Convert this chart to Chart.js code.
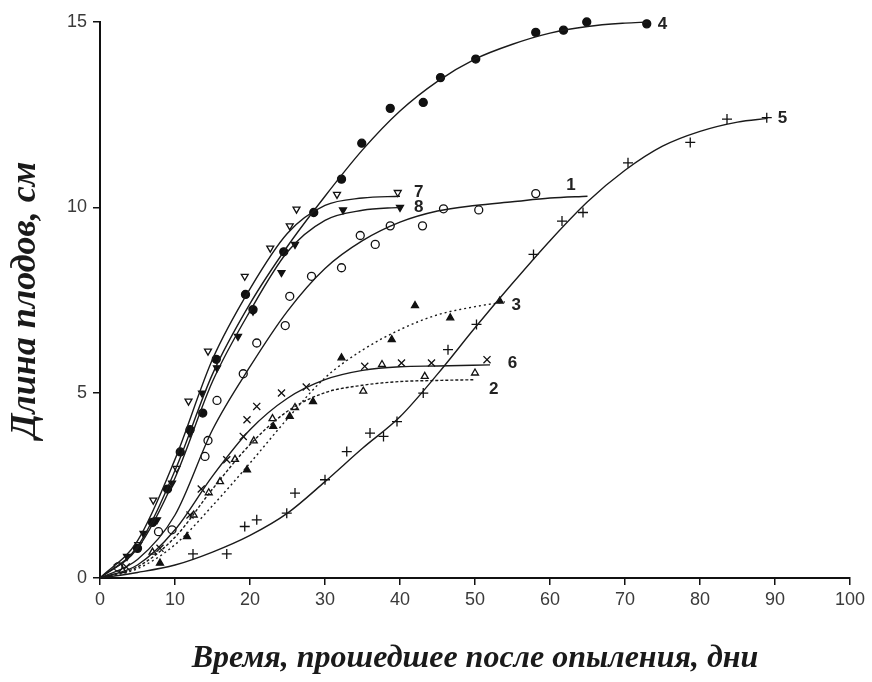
<!DOCTYPE html>
<html>
<head>
<meta charset="utf-8">
<script src="https://cdn.jsdelivr.net/npm/chart.js@4.4.1/dist/chart.umd.min.js"></script>
<style>
  html, body { margin: 0; padding: 0; background: #fff; }
  canvas { display: block; }
</style>
</head>
<body>
<canvas id="grafico" width="872" height="682"></canvas>
<script>
// tick labels
const xTicks = [0, 10, 20, 30, 40, 50, 60, 70, 80, 90, 100];
const yTicks = [0, 5, 10, 15];

// fitted curves [x, y]
const line1 = [[0,0],[5,0.5],[10,1.7],[15,4.0],[20,5.7],[25,7.2],[30,8.35],[35,9.1],[40,9.6],[45,9.9],[50,10.05],[55,10.15],[60,10.25],[65,10.3]];
const line2 = [[0,0],[5,0.3],[10,1.1],[15,2.4],[20,3.6],[25,4.5],[30,5.0],[35,5.2],[40,5.3],[45,5.33],[50,5.35]];
const line3 = [[0,0],[5,0.25],[10,0.9],[15,1.95],[20,3.1],[25,4.3],[30,5.4],[35,6.15],[40,6.7],[45,7.1],[50,7.32],[54,7.45]];
const line4 = [[0,0],[5,0.85],[10,2.9],[15,5.5],[20,7.4],[25,8.95],[30,10.3],[35,11.55],[40,12.6],[45,13.4],[50,14.0],[55,14.4],[60,14.7],[65,14.88],[70,14.97],[73,15.0]];
const line5 = [[0,0],[5,0.15],[10,0.35],[15,0.7],[20,1.15],[25,1.75],[30,2.6],[35,3.5],[40,4.35],[45,5.5],[50,6.75],[55,7.95],[60,9.1],[65,10.15],[70,11.0],[75,11.65],[80,12.05],[85,12.3],[89,12.4]];
const line6 = [[0,0],[5,0.35],[10,1.3],[15,2.75],[20,4.0],[25,4.85],[30,5.35],[35,5.6],[40,5.7],[45,5.72],[52,5.75]];
const line7 = [[0,0],[5,1.0],[10,3.2],[15,5.9],[20,7.8],[25,9.3],[30,10.05],[35,10.25],[40,10.3]];
const line8 = [[0,0],[5,0.8],[10,2.7],[15,5.3],[20,7.2],[25,8.8],[30,9.65],[35,9.92],[40,10.0]];

// measured points [x, y]
const pts1 = [[2.4,0.3],[7.8,1.25],[9.6,1.3],[14,3.28],[14.4,3.71],[15.6,4.79],[19.1,5.51],[20.9,6.34],[24.7,6.81],[25.3,7.6],[28.2,8.14],[32.2,8.37],[34.7,9.24],[36.7,9.0],[38.7,9.5],[43,9.5],[45.8,9.96],[50.5,9.93],[58.1,10.37]];
const pts2 = [[3,0.2],[7,0.7],[12.5,1.7],[14.5,2.3],[16,2.6],[18,3.2],[20.5,3.7],[23,4.3],[26,4.6],[35.1,5.04],[37.6,5.76],[43.3,5.44],[50,5.53]];
const pts3 = [[8,0.4],[11.6,1.12],[19.6,2.92],[23.1,4.09],[25.3,4.36],[28.4,4.76],[32.2,5.94],[38.9,6.43],[42,7.35],[46.7,7.02],[53.3,7.47]];
const pts4 = [[2.5,0.3],[5,0.8],[7,1.5],[9,2.4],[10.7,3.4],[12,4.0],[13.7,4.45],[15.5,5.9],[19.4,7.65],[20.4,7.24],[24.5,8.8],[28.5,9.86],[32.2,10.76],[34.9,11.73],[38.7,12.67],[43.1,12.83],[45.4,13.5],[50.1,14.0],[58.1,14.72],[61.8,14.78],[64.9,15.0],[72.9,14.95]];
const pts5 = [[12.4,0.65],[16.9,0.65],[19.3,1.39],[20.9,1.57],[24.9,1.75],[26,2.29],[30,2.65],[32.9,3.41],[36,3.91],[37.8,3.82],[39.6,4.22],[43.1,4.99],[46.4,6.16],[50.2,6.84],[57.8,8.73],[61.6,9.63],[64.4,9.86],[70.4,11.2],[78.7,11.75],[83.6,12.38],[88.9,12.42]];
const pts6 = [[3.5,0.3],[8,0.8],[12,1.7],[13.5,2.4],[16.9,3.19],[19.1,3.82],[19.6,4.27],[20.9,4.63],[24.2,4.99],[27.5,5.15],[35.3,5.71],[40.2,5.8],[44.2,5.8],[51.6,5.89]];
const pts7 = [[2.4,0.3],[5.1,0.9],[7.1,2.1],[10.2,2.96],[11.8,4.77],[14.4,6.12],[19.3,8.14],[22.7,8.9],[25.3,9.5],[26.2,9.95],[31.6,10.35],[39.7,10.4]];
const pts8 = [[3.6,0.58],[5.8,1.2],[7.6,1.57],[9.6,2.56],[12,3.91],[13.6,4.99],[15.6,5.67],[18.4,6.52],[20.4,7.2],[24.2,8.24],[26,9.0],[32.4,9.93],[40,10.0]];

// curve labels
const curveNames = ['1', '2', '3', '4', '5', '6', '7', '8'];
const nameX = [62.8, 52.5, 55.5, 75, 91, 55, 42.5, 42.5];
const nameY = [10.6, 5.1, 7.35, 14.95, 12.4, 5.8, 10.4, 10.0];

function par(arr) {
    return arr.map(p => ({ x: p[0], y: p[1] }));
}

function curva(arr, dash) {
    return {
        data: par(arr),
        showLine: true,
        borderColor: '#1a1a1a',
        borderWidth: 1.4,
        borderDash: dash || [],
        pointRadius: 0,
        clip: false,
        cubicInterpolationMode: 'monotone'
    };
}

function pontos(arr, style, filled, rot, r) {
    return {
        data: par(arr),
        showLine: false,
        clip: false,
        pointStyle: style,
        rotation: rot || 0,
        pointRadius: r || 4,
        pointBackgroundColor: filled ? '#111' : '#fff',
        pointBorderColor: '#111',
        pointBorderWidth: 1.3
    };
}

const rotulos = {
    id: 'rotulos',
    afterDatasetsDraw(chart) {
        const ctx = chart.ctx;
        const sx = chart.scales.x, sy = chart.scales.y;
        ctx.save();
        ctx.fillStyle = '#222';
        ctx.font = 'bold 17px "Liberation Sans"';
        ctx.textBaseline = 'middle';
        ctx.textAlign = 'center';
        curveNames.forEach((n, i) => {
            ctx.fillText(n, sx.getPixelForValue(nameX[i]), sy.getPixelForValue(nameY[i]));
        });
        ctx.restore();
    }
};

new Chart(document.getElementById('grafico'), {
    type: 'scatter',
    data: {
        datasets: [
            curva(line1), curva(line2, [3, 2]), curva(line3, [2, 3]), curva(line4),
            curva(line5), curva(line6), curva(line7), curva(line8),
            pontos(pts1, 'circle', false),
            pontos(pts2, 'triangle', false),
            pontos(pts3, 'triangle', true),
            pontos(pts4, 'circle', true),
            pontos(pts5, 'cross', false, 0, 5),
            pontos(pts6, 'crossRot', false, 0, 5),
            pontos(pts7, 'triangle', false, 180),
            pontos(pts8, 'triangle', true, 180)
        ]
    },
    options: {
        responsive: false,
        animation: false,
        layout: { padding: { top: 22, right: 22, left: 0, bottom: 0 } },
        plugins: { legend: { display: false }, tooltip: { enabled: false } },
        scales: {
            x: {
                type: 'linear',
                min: 0, max: 100,
                afterBuildTicks: s => { s.ticks = xTicks.map(v => ({ value: v })); },
                afterFit: s => { s.height = 104; },
                ticks: { color: '#3a3a3a', font: { family: 'Liberation Sans', size: 18 }, padding: 4 },
                grid: { drawOnChartArea: false, drawTicks: true, tickLength: 7, color: '#111', lineWidth: 1.5 },
                border: { display: true, color: '#111', width: 2 },
                title: {
                    display: true,
                    text: 'Время, прошедшее после опыления, дни',
                    color: '#1a1a1a',
                    font: { family: 'Liberation Serif', size: 32, style: 'italic', weight: 'bold' },
                    padding: { top: 12 }
                }
            },
            y: {
                min: 0, max: 15,
                afterBuildTicks: s => { s.ticks = yTicks.map(v => ({ value: v })); },
                afterFit: s => { s.width = 100; },
                ticks: { color: '#3a3a3a', font: { family: 'Liberation Sans', size: 18 }, padding: 6 },
                grid: { drawOnChartArea: false, drawTicks: true, tickLength: 7, color: '#111', lineWidth: 1.5 },
                border: { display: true, color: '#111', width: 2 },
                title: {
                    display: true,
                    text: 'Длина плодов, см',
                    color: '#1a1a1a',
                    font: { family: 'Liberation Serif', size: 36, style: 'italic', weight: 'bold' },
                    padding: { bottom: 8 }
                }
            }
        }
    },
    plugins: [rotulos]
});
</script>
</body>
</html>
